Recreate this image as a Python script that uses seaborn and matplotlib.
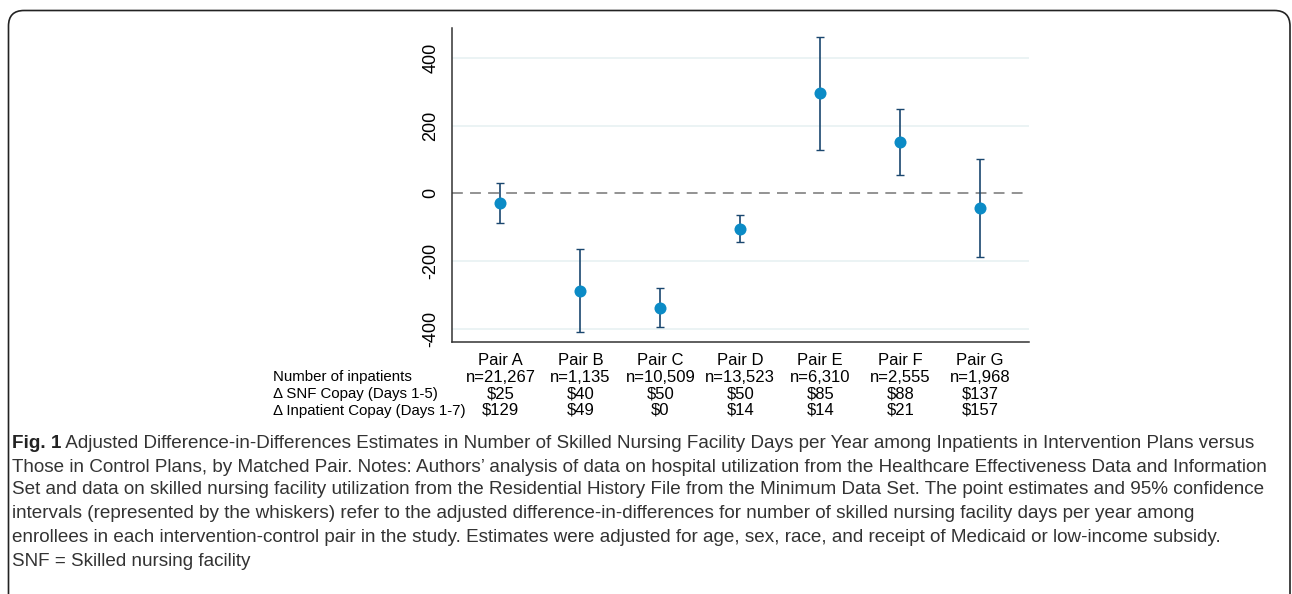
import numpy as np
import pandas as pd
import seaborn as sns
import matplotlib.pyplot as plt
import matplotlib.transforms as mtransforms
from matplotlib.patches import FancyBboxPatch

sns.set_theme(style="white")
plt.rcParams['font.family'] = ['Liberation Sans', 'DejaVu Sans']
plt.rcParams['axes.unicode_minus'] = False

pairs = ["Pair A", "Pair B", "Pair C", "Pair D", "Pair E", "Pair F", "Pair G"]
estimate = [-29, -289, -339, -105, 296, 151, -44]
ci_low = [-88, -410, -396, -144, 128, 53, -188]
ci_high = [31, -166, -281, -64, 463, 249, 100]
n_inpatients = ["n=21,267", "n=1,135", "n=10,509", "n=13,523", "n=6,310", "n=2,555", "n=1,968"]
snf_copay = ["$25", "$40", "$50", "$50", "$85", "$88", "$137"]
inpatient_copay = ["$129", "$49", "$0", "$14", "$14", "$21", "$157"]
row_labels = ["Number of inpatients", "\u0394 SNF Copay (Days 1-5)", "\u0394 Inpatient Copay (Days 1-7)"]

caption_lines = [
    "Adjusted Difference-in-Differences Estimates in Number of Skilled Nursing Facility Days per Year among Inpatients in Intervention Plans versus",
    "Those in Control Plans, by Matched Pair. Notes: Authors\u2019 analysis of data on hospital utilization from the Healthcare Effectiveness Data and Information",
    "Set and data on skilled nursing facility utilization from the Residential History File from the Minimum Data Set. The point estimates and 95% confidence",
    "intervals (represented by the whiskers) refer to the adjusted difference-in-differences for number of skilled nursing facility days per year among",
    "enrollees in each intervention-control pair in the study. Estimates were adjusted for age, sex, race, and receipt of Medicaid or low-income subsidy.",
    "SNF = Skilled nursing facility",
]

df = pd.DataFrame({"pair": pairs, "est": estimate, "lo": ci_low, "hi": ci_high})

W, H = 1292, 594
fig = plt.figure(figsize=(W / 100, H / 100), dpi=100)
ax = fig.add_axes([451.7 / W, 1 - 341.7 / H, (1029 - 451.7) / W, (341.7 - 28) / H])

# whiskers
err = [df["est"] - df["lo"], df["hi"] - df["est"]]
ax.errorbar(df["pair"], df["est"], yerr=err, fmt="none", ecolor="#1a476f",
            elinewidth=1.2, capsize=3.2, capthick=1.0, zorder=2)
sns.scatterplot(data=df, x="pair", y="est", ax=ax, color="#0b8bc6", s=75,
                linewidth=0, zorder=3)

ax.axhline(0, color="#8a8a8a", lw=1.3, ls=(0, (6, 4)), zorder=1)
for yv in [-400, -200, 200, 400]:
    ax.axhline(yv, color="#e8f1f2", lw=1.2, zorder=0)

ax.set_xlim(-0.61, 6.61)
ax.set_ylim(-439, 489)
ax.set_yticks([-400, -200, 0, 200, 400])
ax.set_xlabel("")
ax.set_ylabel("")
sns.despine(ax=ax)
for s in ["left", "bottom"]:
    ax.spines[s].set_color("#333333")
    ax.spines[s].set_linewidth(1.1)
ax.tick_params(axis="both", which="both", length=3.8, width=1.0, color="#333333",
               labelsize=12, labelcolor="black")
ax.tick_params(axis="x", pad=4)
ax.tick_params(axis="y", pad=5, labelrotation=90, labelsize=13)
for lab in ax.get_yticklabels():
    lab.set_va("center")

# table rows under the axis
trans = mtransforms.blended_transform_factory(ax.transData, fig.transFigure)
row_y = [377, 394, 410.5]
for vals, yy in zip([n_inpatients, snf_copay, inpatient_copay], row_y):
    for i, v in enumerate(vals):
        ax.text(i, 1 - yy / H, v, transform=trans, ha="center", va="center",
                fontsize=12, color="black")
for lab, yy in zip(row_labels, row_y):
    fig.text(273 / W, 1 - yy / H, lab, ha="left", va="center", fontsize=10.8, color="black")

# frame
frame = FancyBboxPatch((8.5 / W, -0.05), (1290 - 8.5) / W, (H - 10.5) / H + 0.05,
                       boxstyle="round,pad=0,rounding_size=0.012",
                       transform=fig.transFigure, fill=False, ec="#222222", lw=1.2,
                       mutation_aspect=W / H)
fig.patches.append(frame)

# caption
cap_font = ['Liberation Sans', 'DejaVu Sans']
cap_size = 13.6
cap_y = [443, 467, 490, 514, 537, 561]
bold = fig.text(12 / W, 1 - cap_y[0] / H, "Fig. 1", fontsize=cap_size, fontweight="bold",
                family=cap_font, ha="left", va="center", color="#222222")
ax.annotate(" " + caption_lines[0], xy=(1, 0.5), xycoords=bold, ha="left", va="center",
            fontsize=cap_size, family=cap_font, color="#333333", annotation_clip=False)
for line, yy in zip(caption_lines[1:], cap_y[1:]):
    fig.text(12 / W, 1 - yy / H, line, ha="left", va="center", fontsize=cap_size,
             family=cap_font, color="#333333")

fig.savefig("out.png", dpi=100)
